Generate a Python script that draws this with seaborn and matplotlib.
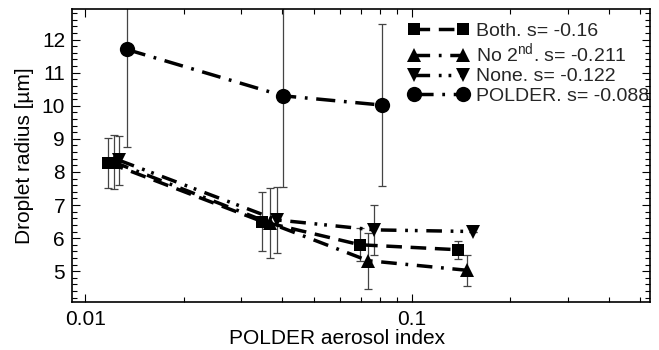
import numpy as np
import pandas as pd
import matplotlib
matplotlib.use("Agg")
import matplotlib.pyplot as plt
import matplotlib.ticker as mticker
import seaborn as sns

# values
x_both = [0.01175, 0.0348, 0.0693, 0.138]
y_both = [8.28, 6.5, 5.8, 5.65]
e_both = [0.75, 0.9, 0.5, 0.27]

x_no2 = [0.0122, 0.0368, 0.0733, 0.147]
y_no2 = [8.3, 6.45, 5.32, 5.03]
e_no2 = [0.82, 1.05, 0.85, 0.47]

x_none = [0.0127, 0.0386, 0.0765, 0.154]
y_none = [8.35, 6.55, 6.25, 6.2]
e_none = [0.75, 1.0, 0.75, 0.0]

x_polder = [0.0134, 0.0403, 0.0809]
y_polder = [11.7, 10.3, 10.02]
e_polder = [2.95, 2.75, 2.45]

labels = ["Both. s= -0.16", "No 2$^{\\mathrm{nd}}$. s= -0.211",
          "None. s= -0.122", "POLDER. s= -0.088"]

sns.set_style("ticks")
plt.rcParams['font.family'] = ['Liberation Sans', 'DejaVu Sans']
plt.rcParams['mathtext.fontset'] = 'custom'
plt.rcParams['mathtext.rm'] = 'Liberation Sans'

fig = plt.figure(figsize=(6.59, 3.5), dpi=100)
ax = fig.add_axes([0.1093, 0.138, 0.877, 0.836])

series = [
    (x_both, y_both, e_both, 's', 9, (0, (4.5, 2.5))),
    (x_no2, y_no2, e_no2, '^', 10, (0, (4.5, 2.5, 0.8, 2.5))),
    (x_none, y_none, e_none, 'v', 10, (0, (4.5, 2.5, 0.8, 2.0, 0.8, 2.5))),
    (x_polder, y_polder, e_polder, 'o', 11, (0, (5.5, 2.5, 0.8, 2.5))),
]

for (xs, ys, es, mk, ms, ls), lab in zip(series, labels):
    df = pd.DataFrame({"x": xs, "y": ys})
    ax.errorbar(xs, ys, yerr=es, fmt='none', ecolor='#444444',
                elinewidth=0.9, capsize=3, capthick=0.9, zorder=1)
    sns.lineplot(data=df, x="x", y="y", ax=ax, color='black', marker=mk,
                 markersize=ms, markeredgewidth=0, linewidth=2.5,
                 linestyle=ls, label=lab, zorder=3, estimator=None)

ax.set_xscale('log')
ax.set_xlim(0.0091, 0.535)
ax.set_ylim(4.08, 12.92)
ax.set_yticks([5, 6, 7, 8, 9, 10, 11, 12])
ax.yaxis.set_minor_locator(mticker.MultipleLocator(0.2))
ax.xaxis.set_major_locator(mticker.FixedLocator([0.01, 0.1]))
ax.xaxis.set_minor_locator(mticker.LogLocator(base=10, subs=np.arange(2, 10), numticks=20))
ax.xaxis.set_major_formatter(mticker.FuncFormatter(lambda v, p: f"{v:g}"))
ax.xaxis.set_minor_formatter(mticker.NullFormatter())
ax.tick_params(which='both', direction='in', top=True, right=True,
               labelsize=15, width=0.8, color='black', labelcolor='black')
ax.tick_params(axis='x', which='major', pad=6)
ax.tick_params(axis='y', which='major', pad=5)
ax.tick_params(which='major', length=6)
ax.tick_params(which='minor', length=3.5, width=0.8)
for sp in ax.spines.values():
    sp.set_linewidth(1.2)
    sp.set_color('black')

ax.set_xlabel("POLDER aerosol index", fontsize=15, color='black')
ax.set_ylabel("Droplet radius [µm]", fontsize=15, color='black')
ax.xaxis.set_label_coords(0.459, -0.092)
ax.yaxis.set_label_coords(-0.066, 0.5)

ax.legend(loc='upper left', numpoints=2, frameon=False, fontsize=14,
          handlelength=3.15, handletextpad=0.35, labelspacing=0.08,
          borderaxespad=0.0, bbox_to_anchor=(0.568, 0.981))

fig.savefig("out.png", dpi=100)
